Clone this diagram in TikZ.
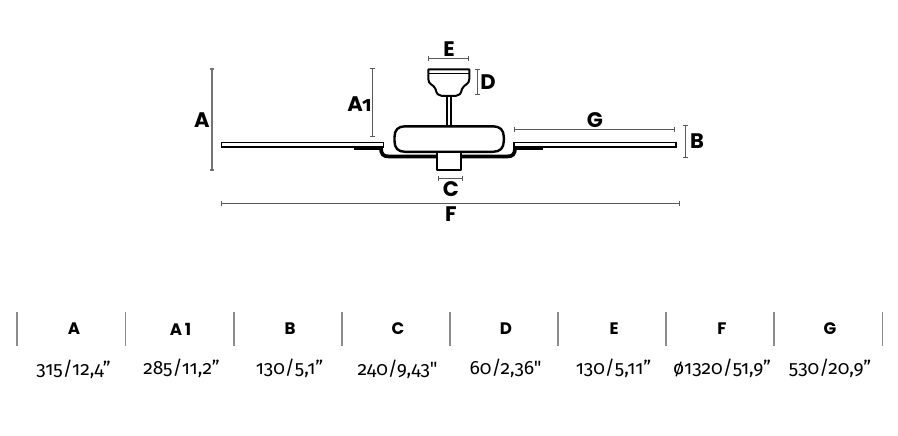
\documentclass[tikz,border=0pt]{standalone}
\usepackage{fontspec}
\usetikzlibrary{arrows.meta}
\setmainfont{Poppins}
\newfontfamily\numf[Numbers=OldStyle]{Fira Sans}
\tikzset{
  x=0.75pt,y=-0.75pt,
  dimline/.style={line width=0.75pt,draw=black!65,{Bar[width=3.6pt,length=0pt]}-{Bar[width=3.6pt,length=0pt]}},
  dimgray/.style={dimline,line width=0.9pt,draw=black!55},
  part/.style={draw=black,line width=1.8pt,fill=white,line join=round},
  bladebar/.style={draw=black,line width=1.3pt,fill=white},
  underbar/.style={draw=black,line width=2pt},
  bigl/.style={font=\fontsize{15.8}{16}\selectfont\bfseries,inner sep=0pt},
  head/.style={font=\fontsize{12.5}{13}\selectfont\bfseries,inner sep=0pt},
  val/.style={font=\numf\fontsize{14.4}{15}\selectfont,inner sep=0pt},
  tick/.style={draw=black!45,line width=1.05pt}
}
\begin{document}
\begin{tikzpicture}
\useasboundingbox[fill=white] (0,0) rectangle (898,435);
% arm
\draw[black,line width=2.8pt,line join=round] (381,148) .. controls (381,154) and (383,156.5) .. (389,156.5) -- (507,156.5) .. controls (513,156.5) and (515,154) .. (515,148);
% blades
\draw[bladebar] (221.5,142.5) rectangle (383.5,146.8);
\draw[bladebar] (514,142.5) rectangle (676,146.8);
\draw[underbar] (354,148.6) -- (383,148.6);
\draw[underbar] (515,148.6) -- (543,148.6);
% rod and canopy
\draw[draw=black,line width=1.2pt,fill=white] (446.8,95) rectangle (450.8,126);
\draw[part,line width=1.5pt] (428.3,69.5) -- (469.3,69.5) -- (469.3,79) .. controls (469.3,85) and (464,84) .. (462,89) .. controls (461,94) and (459,95.8) .. (456,95.8) -- (441.5,95.8) .. controls (438.5,95.8) and (436.5,94) .. (435.5,89) .. controls (433.5,84) and (428.3,85) .. (428.3,79) -- cycle;
\draw[black,line width=1.2pt] (428.3,73.5) -- (469.3,73.5);
% motor body
\draw[part] (405,126.3) -- (493,126.3) .. controls (500,126.3) and (503.8,130) .. (503.8,137) -- (503.8,141) .. controls (503.8,148) and (500,151.8) .. (493,151.8) -- (405,151.8) .. controls (398,151.8) and (394.5,148) .. (394.5,141) -- (394.5,137) .. controls (394.5,130) and (398,126.3) .. (405,126.3) -- cycle;
% switch box
\draw[part,line width=1.4pt] (437,152) rectangle (461,170);
% dimensions
\draw[dimgray] (212,68.5) -- (212,170.5);
\draw[dimline] (372.7,68.5) -- (372.7,136.5);
\draw[dimline] (428,58.7) -- (469,58.7);
\draw[dimline] (477.3,69.5) -- (477.3,94.7);
\draw[dimline] (437.7,178.3) -- (462.7,178.3);
\draw[dimline] (514,129.3) -- (675,129.3);
\draw[dimline] (685.3,124.5) -- (685.3,157.7);
\draw[dimline] (221,203.7) -- (679.7,203.7);
% labels
\node[bigl] (la) at (202,120.5) {A};
\node[bigl] (la1) at (359.5,104) {A{\numf\kern-0.5pt 1}};
\node[bigl] (le) at (449,49.5) {E};
\node[bigl] (ld) at (488,82.5) {D};
\node[bigl] (lg) at (595,120.5) {G};
\node[bigl] (lb) at (697,141.5) {B};
\node[bigl] (lc) at (451,189.5) {C};
\node[bigl] (lf) at (451,214.5) {F};
% table
\foreach \x in {17,125.7,234,342,450,558,666,774,882.3}
  \draw[tick] (\x,312) -- (\x,345.5);
\node[head] (h1) at (74,329) {A};
\node[head] (h2) at (180.5,329) {A\,1};
\node[head] (h3) at (290,329) {B};
\node[head] (h4) at (398,329) {C};
\node[head] (h5) at (506,329) {D};
\node[head] (h6) at (614,329) {E};
\node[head] (h7) at (722,329) {F};
\node[head] (h8) at (830,329) {G};
\node[val] (v1) at (73.5,369) {315/12,4”};
\node[val] (v2) at (181.5,368) {285/11,2”};
\node[val] (v3) at (289.5,368) {130/5,1”};
\node[val] (v4) at (397.5,369) {240/9,43"};
\node[val] (v5) at (505.5,368) {60/2,36"};
\node[val] (v6) at (613.5,368) {130/5,11”};
\node[val] (v7) at (722,368) {ø1320/51,9”};
\node[val] (v8) at (830,368) {530/20,9”};
\end{tikzpicture}
\end{document}
